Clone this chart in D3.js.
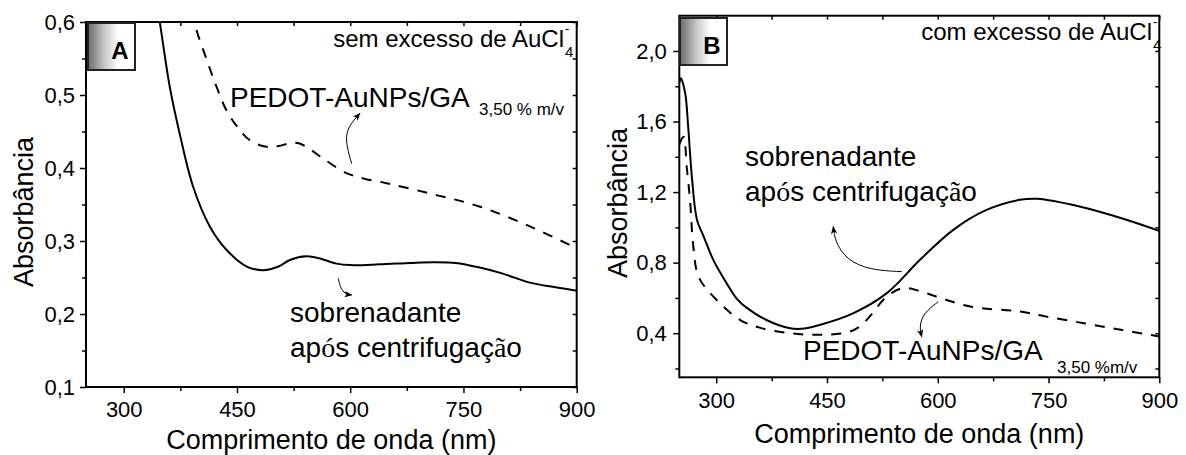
<!DOCTYPE html>
<html><head><meta charset="utf-8">
<script src="https://cdn.jsdelivr.net/npm/d3@7"></script>
<style>
html,body{margin:0;padding:0;background:#fff;}
svg{display:block;font-family:"Liberation Sans",Arial,sans-serif;}
</style></head>
<body><svg id="c" width="1186" height="455"></svg>
<script>
// ---------- DATA ----------
const xTicks = [300, 450, 600, 750, 900];
const xMinorTicks = [375, 525, 675, 825];
const yTicksA = [0.1, 0.2, 0.3, 0.4, 0.5, 0.6];
const yMinorA = [0.15, 0.25, 0.35, 0.45, 0.55];
const yTicksB = [0.4, 0.8, 1.2, 1.6, 2.0];
const yMinorB = [0.2, 0.6, 1.0, 1.4, 1.8];

// Panel A: sobrenadante após centrifugação (solid)
const solidA_wl = [340, 348, 361, 375, 392, 414, 436, 463, 485, 505, 520, 542, 560, 582, 600, 639, 680, 710, 740, 770, 800, 838, 870, 900];
const solidA_abs = [0.65, 0.598, 0.511, 0.443, 0.374, 0.320, 0.288, 0.265, 0.260, 0.265, 0.274, 0.279, 0.276, 0.269, 0.267, 0.268, 0.270, 0.271, 0.270, 0.264, 0.256, 0.243, 0.237, 0.232];
// Panel A: PEDOT-AuNPs/GA (dashed)
const dashA_wl = [388, 394, 410, 423, 436, 450, 467, 489, 505, 520, 532, 545, 564, 595, 620, 640, 706, 772, 838, 900];
const dashA_abs = [0.64, 0.598, 0.548, 0.511, 0.479, 0.457, 0.438, 0.429, 0.430, 0.434, 0.434, 0.427, 0.413, 0.393, 0.385, 0.381, 0.365, 0.347, 0.320, 0.290];
// Panel B: sobrenadante (solid)
const solidB_wl = [250, 252, 258, 262, 267, 274, 283, 296, 314, 328, 341, 368, 400, 415, 440, 486, 531, 576, 621, 666, 711, 735, 792, 850, 900];
const solidB_abs = [1.82, 1.845, 1.76, 1.571, 1.288, 1.042, 0.948, 0.816, 0.684, 0.595, 0.545, 0.475, 0.428, 0.425, 0.447, 0.514, 0.627, 0.816, 0.986, 1.099, 1.156, 1.162, 1.118, 1.05, 0.98];
// Panel B: PEDOT-AuNPs/GA (dashed)
const dashB_wl = [250, 253, 256, 260, 264.5, 269, 276, 294, 332, 360, 400, 440, 478, 495, 508, 531, 553, 575, 598, 644, 711, 747, 800, 850, 900];
const dashB_abs = [1.47, 1.50, 1.514, 1.344, 1.156, 0.891, 0.721, 0.617, 0.476, 0.43, 0.40, 0.391, 0.405, 0.44, 0.495, 0.608, 0.656, 0.64, 0.608, 0.551, 0.523, 0.494, 0.455, 0.418, 0.381];

// annotation arrows (data units)
const arrowA1 = [[601.9,0.406],[593.1,0.438],[597.4,0.457],[612.9,0.475]];
const arrowA2 = [[584.2,0.249],[586.5,0.237],[593.1,0.227],[601.9,0.226]];
const arrowB1 = [[551.2,0.749],[508.2,0.758],[476.7,0.815],[460.9,0.919],[458.5,1.004]];
const arrowB2 = [[600.7,0.579],[580.4,0.513],[575,0.437],[578.3,0.380]];

// ---------- DRAW ----------
const svg = d3.select("#c");
const defs = svg.append("defs");
const grad = defs.append("linearGradient").attr("id","boxg").attr("x1","0").attr("y1","0").attr("x2","1").attr("y2","0");
grad.append("stop").attr("offset","0").attr("stop-color","#6a6a6a");
grad.append("stop").attr("offset","0.35").attr("stop-color","#c8c8c8");
grad.append("stop").attr("offset","0.65").attr("stop-color","#ffffff");
grad.append("stop").attr("offset","1").attr("stop-color","#ffffff");
defs.append("marker").attr("id","ah").attr("viewBox","0 0 10 8").attr("refX",9).attr("refY",4)
  .attr("markerWidth",8).attr("markerHeight",6.5).attr("markerUnits","userSpaceOnUse").attr("orient","auto")
  .append("path").attr("d","M0,0 L10,4 L0,8 L2.5,4 z").attr("fill","#000");

const fmt = d => d.toFixed(1).replace(".", ",");
const zip = (a,b) => a.map((v,i)=>[v,b[i]]);

function panel(id, x, y, yt, ym, solid, dash, arrows, opts) {
  const g = svg.append("g");
  const [x0,x1] = x.range(), [y0,y1] = y.range();
  defs.append("clipPath").attr("id","clip"+id).append("rect")
    .attr("x",x0).attr("y",y1).attr("width",x1-x0).attr("height",y0-y1);

  const line = d3.line().x(d=>x(d[0])).y(d=>y(d[1])).curve(d3.curveCatmullRom.alpha(0.5));
  const cg = g.append("g").attr("clip-path","url(#clip"+id+")");
  cg.append("path").attr("d",line(solid)).attr("fill","none").attr("stroke","#000").attr("stroke-width",2);
  cg.append("path").attr("d",line(dash)).attr("fill","none").attr("stroke","#000").attr("stroke-width",2).attr("stroke-dasharray","10,9");

  // frame
  g.append("rect").attr("x",x0).attr("y",y1).attr("width",x1-x0).attr("height",y0-y1)
    .attr("fill","none").attr("stroke","#000").attr("stroke-width",2);

  const styleAxis = sel => { sel.select(".domain").remove(); sel.selectAll("line").attr("stroke","#000").attr("stroke-width",1.5); };
  const bx = g.append("g").attr("transform",`translate(0,${y0})`)
    .call(d3.axisBottom(x).tickValues(xTicks).tickSize(6).tickFormat(d3.format("d")));
  styleAxis(bx);
  bx.selectAll("text").attr("font-size",22).attr("font-family","Liberation Sans, Arial, sans-serif").attr("fill","#000")
    .attr("y",opts.xlabOff).attr("dy",0);
  const bxm = g.append("g").attr("transform",`translate(0,${y0})`).call(d3.axisBottom(x).tickValues(xMinorTicks).tickSize(4).tickFormat(""));
  styleAxis(bxm);
  const ly = g.append("g").attr("transform",`translate(${x0},0)`)
    .call(d3.axisLeft(y).tickValues(yt).tickSize(6).tickPadding(opts.ylabPad).tickFormat(fmt));
  styleAxis(ly);
  ly.selectAll("text").attr("font-size",22).attr("font-family","Liberation Sans, Arial, sans-serif").attr("fill","#000");
  const lym = g.append("g").attr("transform",`translate(${x0},0)`).call(d3.axisLeft(y).tickValues(ym).tickSize(4).tickFormat(""));
  styleAxis(lym);
  const tx = g.append("g").attr("transform",`translate(0,${y1})`)
    .call(d3.axisTop(x).tickValues(xTicks.concat(xMinorTicks)).tickSize(-4).tickFormat(""));
  styleAxis(tx);
  const ry = g.append("g").attr("transform",`translate(${x1},0)`)
    .call(d3.axisRight(y).tickValues(yt.concat(ym)).tickSize(-4).tickFormat(""));
  styleAxis(ry);

  g.append("text").attr("x",(x0+x1)/2).attr("y",opts.xtitleY).attr("text-anchor","middle")
    .attr("font-size",27).text("Comprimento de onda (nm)");
  g.append("text").attr("transform",`translate(${opts.ytitleX},${opts.ytitleY}) rotate(-90)`)
    .attr("text-anchor","middle").attr("font-size",27).text("Absorbância");

  const aline = d3.line().x(d=>x(d[0])).y(d=>y(d[1])).curve(d3.curveBasis);
  arrows.forEach(a => g.append("path").attr("d",aline(a)).attr("fill","none").attr("stroke","#000")
    .attr("stroke-width",1).attr("marker-end","url(#ah)"));

  const b = opts.box;
  g.append("rect").attr("x",b[0]).attr("y",b[1]).attr("width",b[2]).attr("height",b[3])
    .attr("fill","url(#boxg)").attr("stroke","#222").attr("stroke-width",2);
  g.append("text").attr("x",b[0]+b[2]*0.68).attr("y",b[1]+b[3]*0.76).attr("text-anchor","middle")
    .attr("font-size",24).attr("font-weight","bold").text(id);
  return g;
}

const xA = d3.scaleLinear().domain([250,900]).range([86,576.7]);
const yA = d3.scaleLinear().domain([0.1,0.6]).range([387,22]);
const xB = d3.scaleLinear().domain([250,900]).range([679.3,1159.3]);
const yB = d3.scaleLinear().domain([0.15,2.2]).range([377.3,15.7]);

const gA = panel("A", xA, yA, yTicksA, yMinorA, zip(solidA_wl,solidA_abs), zip(dashA_wl,dashA_abs), [arrowA1,arrowA2],
  {xlabOff:30, ylabPad:5, xtitleY:449, ytitleX:33, ytitleY:212, box:[88,23,47,47]});
const gB = panel("B", xB, yB, yTicksB, yMinorB, zip(solidB_wl,solidB_abs), zip(dashB_wl,dashB_abs), [arrowB1,arrowB2],
  {xlabOff:31, ylabPad:6.5, xtitleY:443, ytitleX:627, ytitleY:203, box:[680,18,47,47]});

// ---------- TEXT ANNOTATIONS ----------
function auText(g, label, xr, yb) {
  g.append("text").attr("x",xr).attr("y",yb).attr("text-anchor","end").attr("font-size",24).text(label);
  g.append("text").attr("x",xr+1).attr("y",yb-14).attr("font-size",13).text("-");
  g.append("text").attr("x",xr+1).attr("y",yb+10).attr("font-size",15).text("4");
}
auText(gA, "sem excesso de AuCl", 564, 47);
auText(gB, "com excesso de AuCl", 1152, 40);

function twoLine(g, x, y1, y2) {
  g.append("text").attr("x",x).attr("y",y1).attr("font-size",28).text("sobrenadante");
  const t = g.append("text").attr("x",x).attr("y",y2).attr("font-size",28);
  t.append("tspan").text("ap");
  t.append("tspan").attr("font-family","Liberation Serif, serif").text("ó");
  t.append("tspan").text("s centrifugaç");
  t.append("tspan").attr("font-family","Liberation Serif, serif").text("ã");
  t.append("tspan").text("o");
}
twoLine(gA, 290, 322, 357);
twoLine(gB, 745, 166, 201);

function pedot(g, x, y, sub, sx, sy) {
  g.append("text").attr("x",x).attr("y",y).attr("font-size",28).text("PEDOT-AuNPs/GA");
  g.append("text").attr("x",sx).attr("y",sy).attr("font-size",17).text(sub);
}
pedot(gA, 230, 107, "3,50 % m/v", 479, 115);
pedot(gB, 803, 360, "3,50 %m/v", 1057, 373);
</script></body></html>
